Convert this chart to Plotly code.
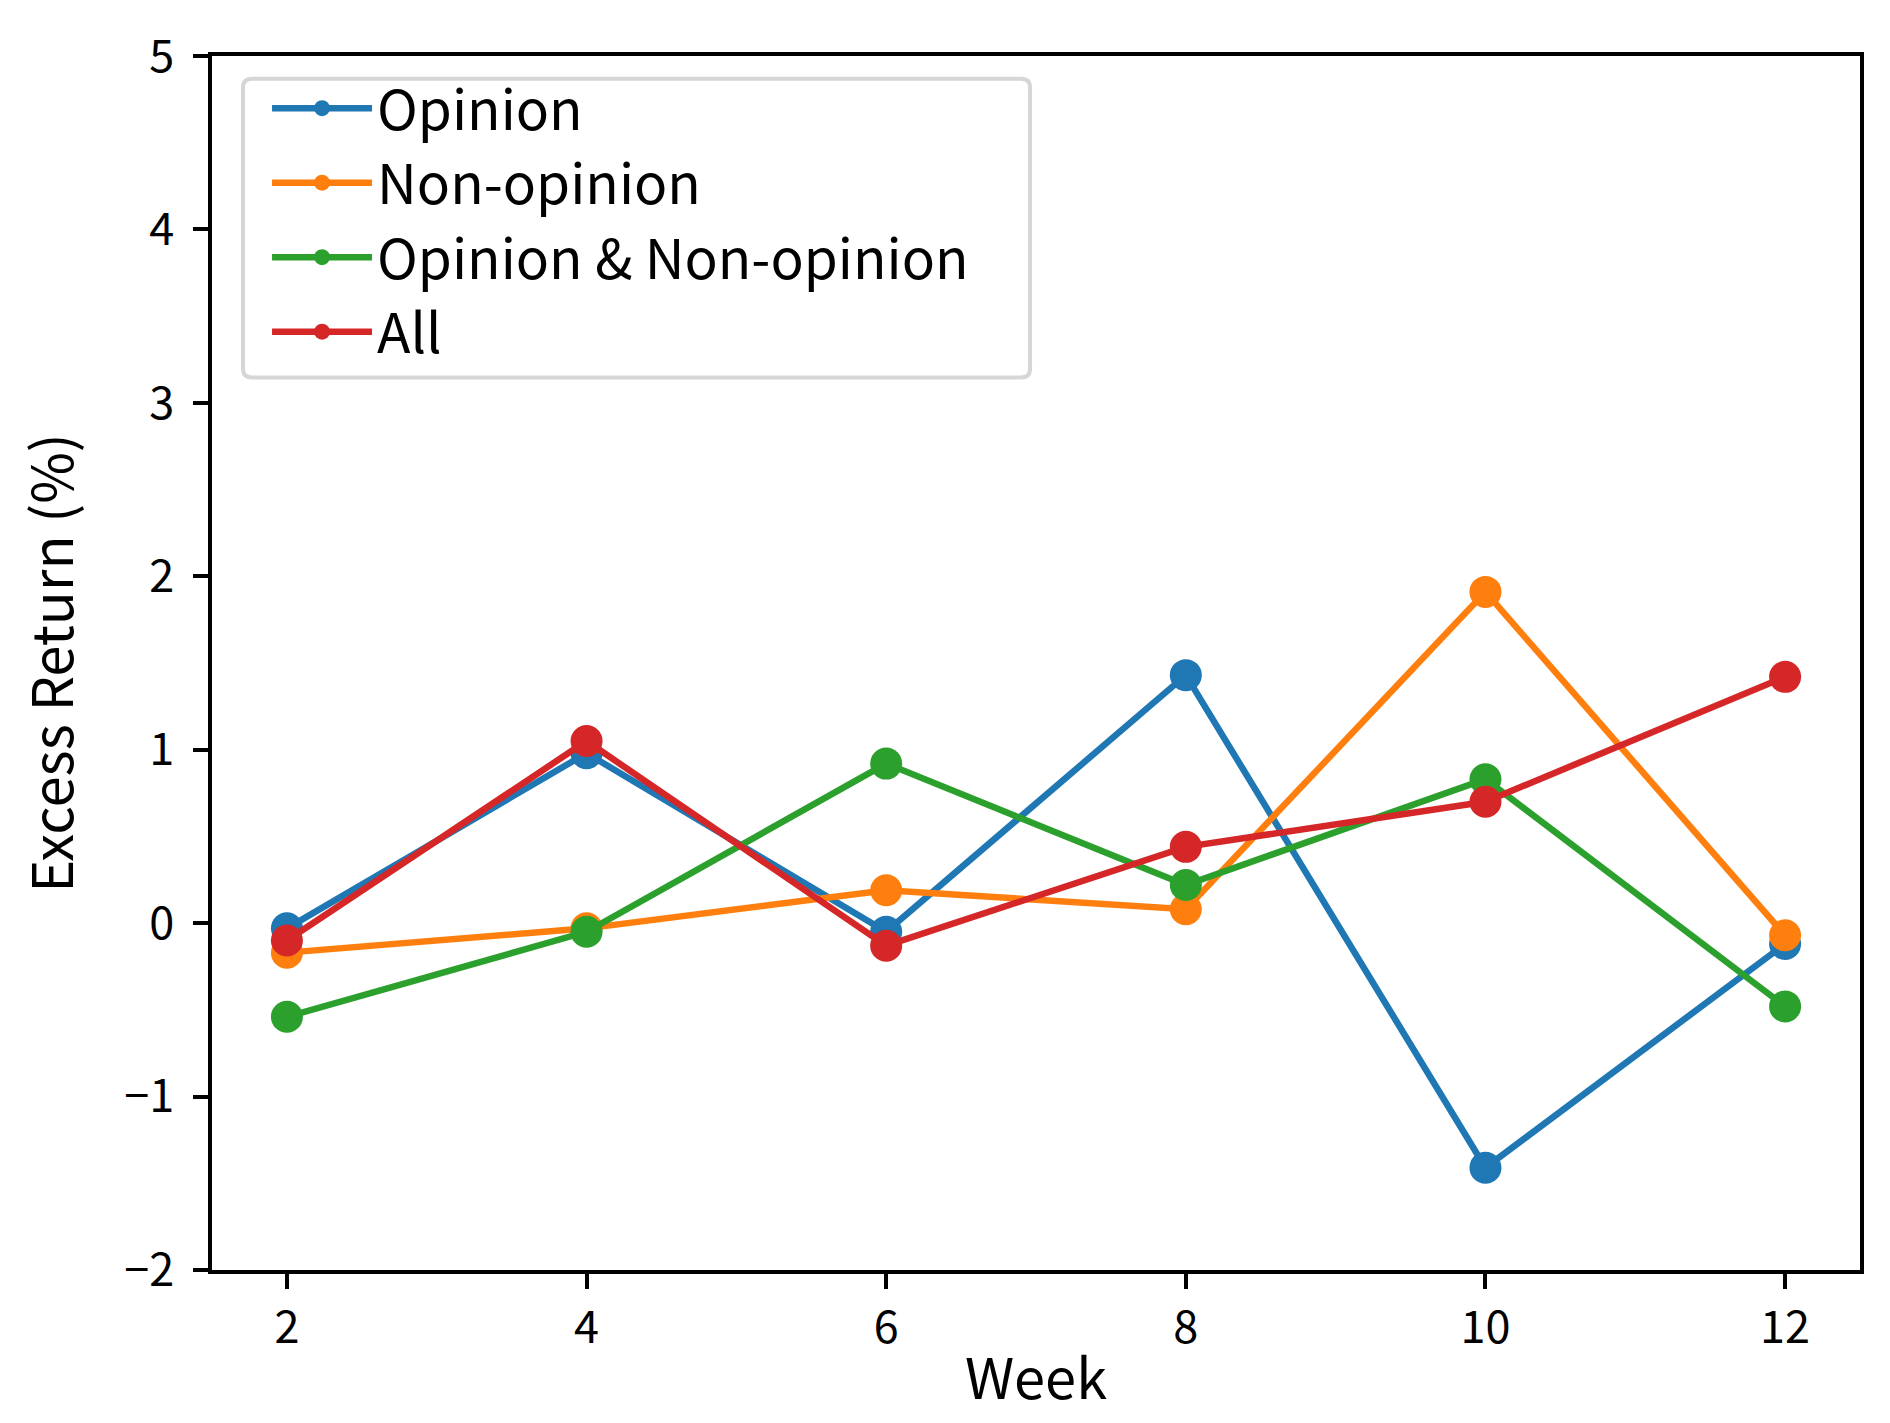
import plotly.graph_objects as go

weeks = [2, 4, 6, 8, 10, 12]
opinion = [-0.03, 0.98, -0.05, 1.43, -1.41, -0.12]
non_opinion = [-0.17, -0.03, 0.19, 0.08, 1.91, -0.07]
op_and_non = [-0.54, -0.05, 0.92, 0.22, 0.83, -0.48]
all_series = [-0.10, 1.05, -0.13, 0.44, 0.70, 1.42]

series_names = ["Opinion", "Non-opinion", "Opinion & Non-opinion", "All"]
series_values = [opinion, non_opinion, op_and_non, all_series]
colors = ["#1f77b4", "#ff7f0e", "#2ca02c", "#d62728"]

x_ticks = [2, 4, 6, 8, 10, 12]
y_ticks = [-2, -1, 0, 1, 2, 3, 4, 5]

FONT = "Noto Sans CJK JP"

fig = go.Figure()
for name, vals, c in zip(series_names, series_values, colors):
    fig.add_trace(go.Scatter(
        x=weeks, y=vals, name=name, mode="lines+markers",
        line=dict(color=c, width=6.5),
        marker=dict(color=c, size=32),
    ))

axis_common = dict(
    showline=True, linecolor="black", linewidth=3.5, mirror=True,
    ticks="outside", ticklen=15, tickwidth=3.5, tickcolor="black",
    showgrid=False, zeroline=False,
    tickfont=dict(family=FONT, size=45, color="black"),
)

# rounded legend frame (paper coordinates of the plot area)
x0, x1, y0, y1 = 0.0188, 0.4964, 0.7351, 0.9812
rx, ry = 0.0055, 0.0074
frame_path = (
    f"M {x0 + rx},{y1} L {x1 - rx},{y1} Q {x1},{y1} {x1},{y1 - ry} "
    f"L {x1},{y0 + ry} Q {x1},{y0} {x1 - rx},{y0} "
    f"L {x0 + rx},{y0} Q {x0},{y0} {x0},{y0 + ry} "
    f"L {x0},{y1 - ry} Q {x0},{y1} {x0 + rx},{y1} Z"
)

# the page body adds an 8px margin, so the figure is sized to fit inside it
fig.update_layout(
    width=1874, height=1407,
    margin=dict(l=204, r=22, t=37, b=143),
    paper_bgcolor="white", plot_bgcolor="white",
    font=dict(family=FONT, color="black"),
    xaxis=dict(range=[1.5, 12.5], tickvals=x_ticks,
               title=dict(text="Week", font=dict(family=FONT, size=56, color="black"), standoff=8),
               **axis_common),
    yaxis=dict(range=[-2, 5], tickvals=y_ticks, ticklabelstandoff=10,
               title=dict(text="Excess Return (%)", font=dict(family=FONT, size=56, color="black"), standoff=34),
               **axis_common),
    shapes=[dict(type="path", xref="paper", yref="paper", path=frame_path,
                 fillcolor="rgba(255,255,255,0.8)", line=dict(color="#d6d6d6", width=4),
                 layer="above")],
    legend=dict(
        x=0.0334, y=0.865, xanchor="left", yanchor="middle",
        bgcolor="rgba(0,0,0,0)", borderwidth=0,
        font=dict(family=FONT, size=55, color="black"),
        itemwidth=100, tracegroupgap=0,
    ),
    showlegend=True,
)

fig.write_html("out.html")
